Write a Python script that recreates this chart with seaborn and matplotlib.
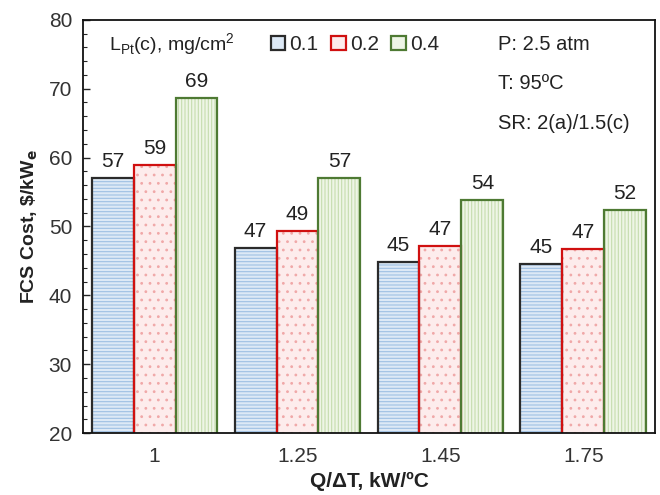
import pandas as pd
import numpy as np
import matplotlib
matplotlib.use('Agg')
import matplotlib.pyplot as plt
import seaborn as sns
from matplotlib.patches import Patch
from matplotlib.ticker import MultipleLocator

# data
q_dt = ['1', '1.25', '1.45', '1.75']
loadings = ['0.1', '0.2', '0.4']
cost_01 = [57.1, 46.9, 44.8, 44.6]
cost_02 = [58.9, 49.4, 47.2, 46.8]
cost_04 = [68.7, 57.1, 53.9, 52.4]

df = pd.DataFrame({
    'q': q_dt * 3,
    'load': np.repeat(loadings, len(q_dt)),
    'cost': cost_01 + cost_02 + cost_04,
})

fill_cols = ['#dde9f6', '#fdecec', '#eef5e6']
hatch_cols = ['#9fc0e4', '#f0a8a8', '#c5dcae']
edge_cols = ['#2b2b2b', '#d01010', '#4e7a33']
hatches = ['-----', '..', '|||||']

sns.set_style('white')
plt.rcParams['font.family'] = ['Liberation Sans', 'DejaVu Sans']
plt.rcParams['hatch.linewidth'] = 0.8

fig = plt.figure(figsize=(6.6, 4.95), dpi=100)
ax = fig.add_axes([0.126, 0.125, 0.866, 0.835])

# filled + hatched bars
sns.barplot(data=df, x='q', y='cost', hue='load', palette=fill_cols,
            width=0.88, gap=0, saturation=1, legend=False, ax=ax)
for cont, hc, h in zip(ax.containers, hatch_cols, hatches):
    for p in cont:
        p.set_hatch(h)
        p.set_edgecolor(hc)
        p.set_linewidth(0)

# outlines on top
sns.barplot(data=df, x='q', y='cost', hue='load', palette=edge_cols,
            width=0.88, gap=0, saturation=1, fill=False, linewidth=1.6,
            legend=False, ax=ax)
for cont in ax.containers[3:]:
    ax.bar_label(cont, labels=[f'{v:.0f}' for v in cont.datavalues],
                 padding=5, fontsize=15, color='#222222')

ax.set_ylim(20, 80)
ax.yaxis.set_major_locator(MultipleLocator(10))
ax.yaxis.set_minor_locator(MultipleLocator(2))
ax.tick_params(axis='y', which='major', direction='in', length=5, width=1,
               left=True, labelsize=15, labelcolor='#333333', pad=8)
ax.tick_params(axis='y', which='minor', direction='in', length=3, width=0.8,
               left=True)
ax.tick_params(axis='x', length=0, labelsize=15, labelcolor='#333333', pad=10)
for s in ax.spines.values():
    s.set_color('#111111')
    s.set_linewidth(1.3)

ax.set_xlabel('Q/ΔT, kW/ºC', fontsize=15, fontweight='bold', color='#222222',
              labelpad=4)
ax.set_ylabel(r'FCS Cost, \$/kW$_\mathbf{e}$', fontsize=14, fontweight='bold',
              color='#222222', labelpad=6)

ax.text(0.045, 0.94, r'L$_\mathregular{Pt}$(c), mg/cm$^\mathregular{2}$',
        transform=ax.transAxes, fontsize=14, va='center', color='#222222')
handles = [Patch(facecolor=fc, edgecolor=ec, linewidth=1.6)
           for fc, ec in zip(fill_cols, edge_cols)]
ax.legend(handles, loadings, ncol=3, loc='center left',
          bbox_to_anchor=(0.31, 0.94), frameon=False, fontsize=15,
          handlelength=0.7, handleheight=0.7, handletextpad=0.2,
          columnspacing=0.6, borderpad=0)

for i, t in enumerate(['P: 2.5 atm', 'T: 95ºC', 'SR: 2(a)/1.5(c)']):
    ax.text(0.725, 0.94 - i * 0.095, t, transform=ax.transAxes, fontsize=14.5,
            va='center', color='#222222')

fig.savefig('out.png', dpi=100)
